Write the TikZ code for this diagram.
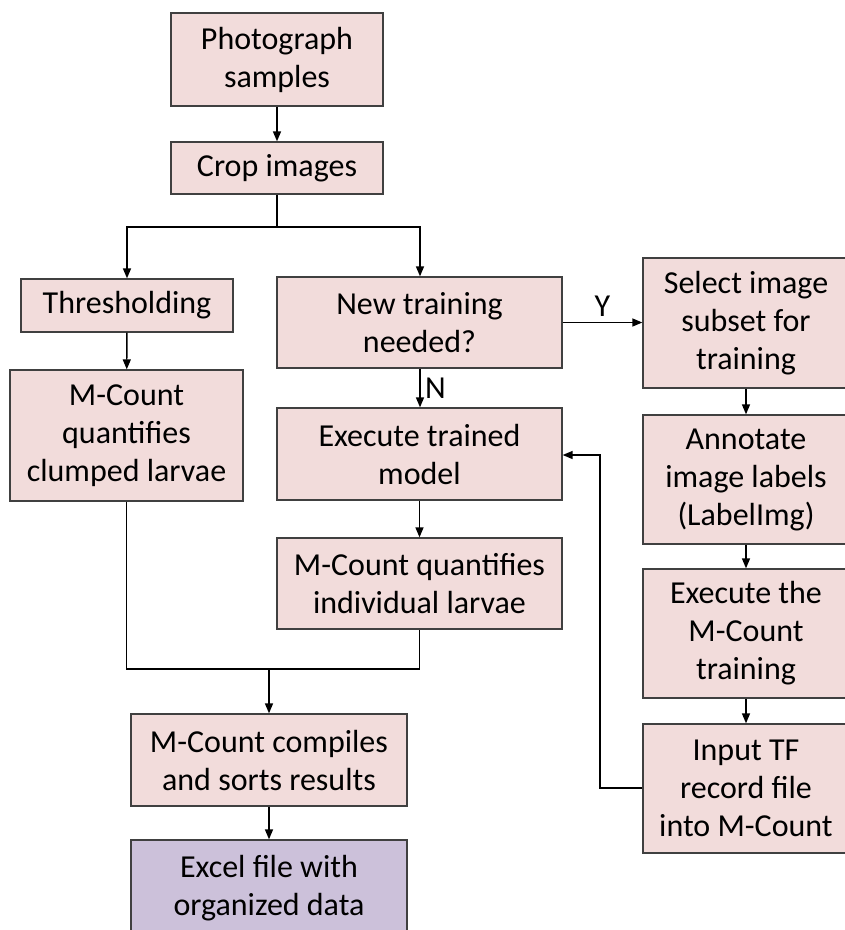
\documentclass[tikz,border=0pt]{standalone}
\usepackage{fontspec}
\setmainfont{Carlito}
\usetikzlibrary{arrows.meta}
\definecolor{boxpink}{HTML}{F2DCDB}
\definecolor{boxpurple}{HTML}{CCC1DA}
\definecolor{edgegray}{HTML}{404040}
\begin{document}
\begin{tikzpicture}[x=1pt,y=-1pt,
  stepbox/.style={draw=edgegray, line width=1.3pt, fill=boxpink, align=center, inner sep=0pt,
    font=\fontsize{32}{38}\selectfont},
  conn/.style={line width=1.4pt, -{Triangle[length=10pt,width=8pt]}},
  plain/.style={line width=1.4pt}]
\useasboundingbox (0,0) rectangle (845,930);
\node[stepbox, minimum width=212pt, minimum height=93pt] (photo) at (277,59.5) {Photograph\\samples};
\node[stepbox, minimum width=212pt, minimum height=52pt] (crop) at (277,168) {Crop images};
\node[stepbox, minimum width=212pt, minimum height=53pt] (thresh) at (127,305.5) {Thresholding};
\node[stepbox, minimum width=233pt, minimum height=131pt] (clump) at (126.5,435.5) {M-Count\\quantifies\\clumped larvae};
\node[stepbox, minimum width=285pt, minimum height=91pt] (newtr) at (419.5,322.5) {New training\\needed?};
\node[stepbox, minimum width=206pt, minimum height=130pt] (select) at (746,323) {Select image\\subset for\\training};
\node[stepbox, minimum width=285pt, minimum height=92pt] (exec) at (419.5,454) {Execute trained\\model};
\node[stepbox, minimum width=285pt, minimum height=91pt] (indiv) at (419.5,583.5) {M-Count quantifies\\individual larvae};
\node[stepbox, minimum width=206pt, minimum height=129pt] (annot) at (746,479.5) {Annotate\\image labels\\(LabelImg)};
\node[stepbox, minimum width=206pt, minimum height=129pt] (exthe) at (746,633.5) {Execute the\\M-Count\\training};
\node[stepbox, minimum width=206pt, minimum height=129pt] (input) at (746,788.5) {Input TF\\record file\\into M-Count};
\node[stepbox, minimum width=276pt, minimum height=92pt] (comp) at (269,760) {M-Count compiles\\and sorts results};
\node[stepbox, fill=boxpurple, minimum width=276pt, minimum height=96pt] (excel) at (269,888) {Excel file with\\organized data};
% connectors
\coordinate (split) at (277,227);
\coordinate (splitL) at (127,227);
\coordinate (splitR) at (420,227);
\draw[conn] (photo) -- (crop);
\draw[plain] (crop.south) -- (split);
\draw[conn] (split) -- (splitL) -- (thresh.north);
\draw[conn] (split) -- (splitR) -- (newtr.north -| splitR);
\draw[conn] (thresh) -- (clump);
\draw[conn] (newtr.east) -- node[above=2pt, font=\fontsize{32}{38}\selectfont] {Y} (select.west |- newtr.east);
\draw[conn] (newtr.south -| splitR) -- node[right=1pt, font=\fontsize{32}{38}\selectfont] {N} (exec.north -| splitR);
\draw[conn] (select) -- (annot);
\draw[conn] (annot) -- (exthe);
\draw[conn] (exthe) -- (input);
\coordinate (fb) at (600,788);
\draw[conn] (input.west |- fb) -- (fb) -- (600,455) -- (exec.east |- 0,455);
\draw[conn] (exec) -- (indiv);
\coordinate (join) at (269,669);
\draw[plain] (clump.south) -- (126.5,669) -- (419.5,669) -- (indiv.south);
\draw[conn] (join) -- (comp.north);
\draw[conn] (comp) -- (excel);
\end{tikzpicture}
\end{document}
